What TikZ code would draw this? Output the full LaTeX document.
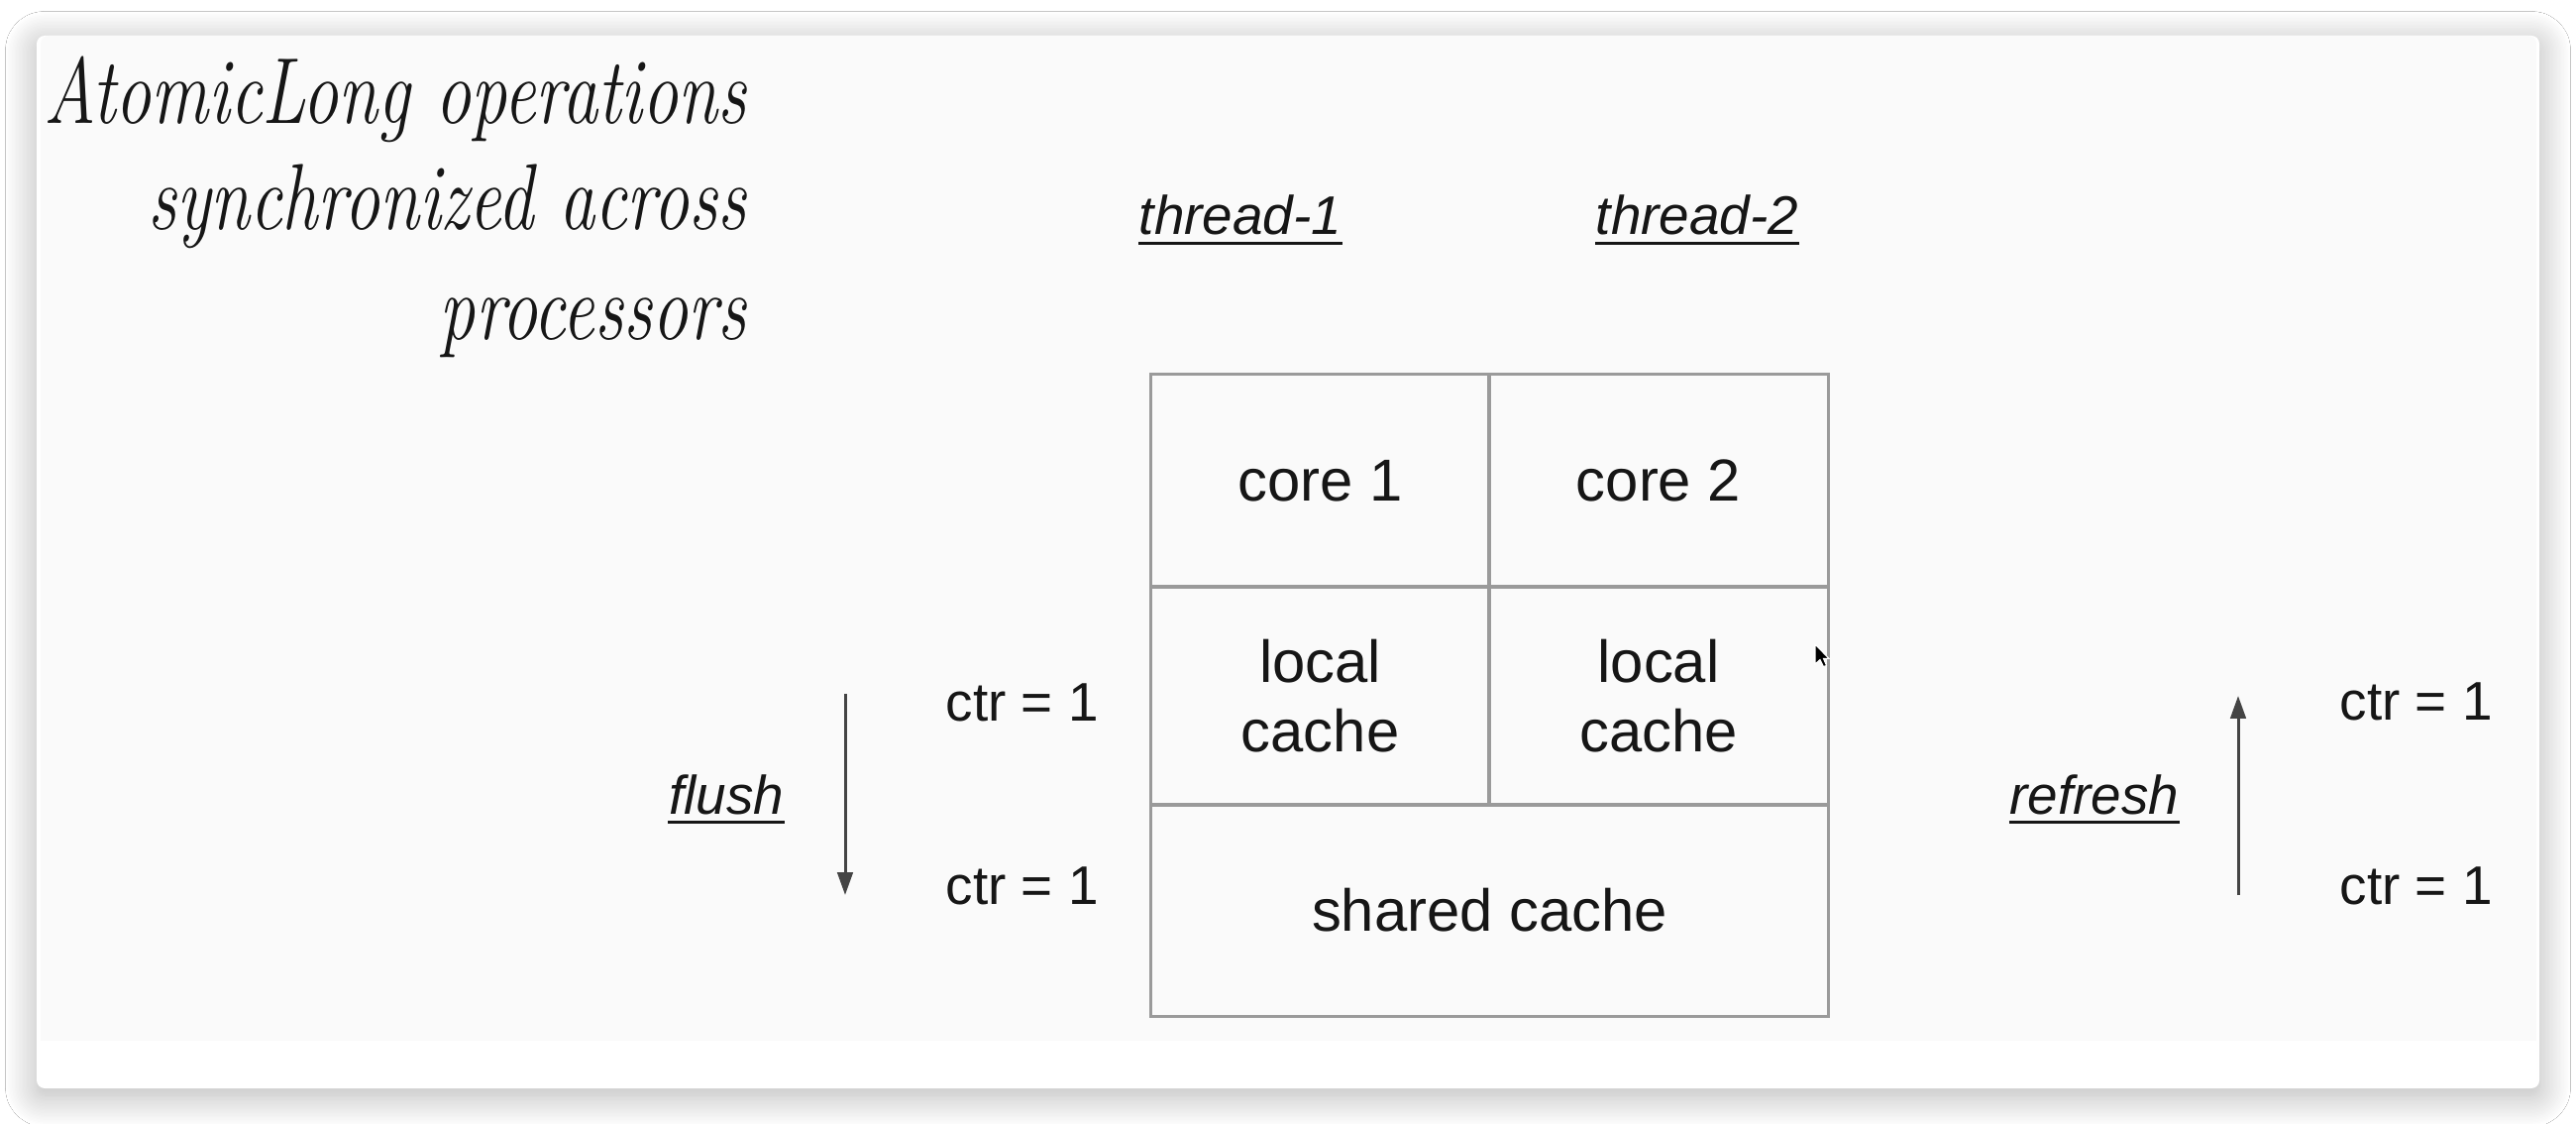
\documentclass[tikz,border=0pt]{standalone}
\usepackage{fontspec}
\usepackage{graphicx}
\newfontfamily\uifont{Liberation Sans}
\usetikzlibrary{arrows.meta,shadows.blur}

\definecolor{panel}{HTML}{FAFAFA}
\definecolor{gridline}{HTML}{9A9A9A}
\definecolor{ink}{HTML}{161616}
\definecolor{arrowink}{HTML}{444444}

\tikzset{
  lbl/.style={font=\uifont\fontsize{15.6}{19.9}\selectfont, text=ink, inner sep=0pt},
  italbl/.style={lbl, font=\uifont\itshape\fontsize{15.6}{19.9}\selectfont},
  cell/.style={lbl, font=\uifont\fontsize{17}{19.9}\selectfont, draw=gridline, line width=0.85pt, align=center},
  heading/.style={font=\itshape\fontsize{19.5}{24}\selectfont, text=ink, inner sep=0pt, anchor=base east},
  uline/.style={draw=ink, line width=0.85pt},
  flow/.style={draw=arrowink, line width=0.85pt, -{Triangle[length=6.5pt,width=4.4pt]}},
}

\begin{document}
\begin{tikzpicture}[x=0.01cm,y=-0.01cm]
  % page
  \useasboundingbox (0,0) rectangle (2600,1134);
  \fill[white] (0,0) rectangle (2600,1134);

  % card with soft shadow
  \fill[white, rounded corners=2.3pt,
        blur shadow={shadow xshift=0pt, shadow yshift=-2pt,
                     shadow blur radius=9pt, shadow blur steps=24,
                     shadow opacity=30}]
    (37,36) rectangle (2563,1098);
  \fill[panel, rounded corners=2.3pt] (41,36) rectangle (2560,80);
  \fill[panel] (41,60) rectangle (2560,1050);

  % heading
  \node[heading] (h1) at (754,125) {\scalebox{1.055}[1.38]{AtomicLong operations}};
  \node[heading] (h2) at (754,232) {\scalebox{1.055}[1.38]{synchronized across}};
  \node[heading] (h3) at (754,343) {\scalebox{1.055}[1.38]{processors}};

  % thread labels
  \node[italbl, anchor=base] (t1) at (1252,237) {thread-1};
  \node[italbl, anchor=base] (t2) at (1713,237) {thread-2};
  \draw[uline] ([yshift=-2.3pt]t1.base west) -- ([yshift=-2.3pt]t1.base east);
  \draw[uline] ([yshift=-2.3pt]t2.base west) -- ([yshift=-2.3pt]t2.base east);

  % processor grid
  \node[cell, minimum width=3.41cm, minimum height=2.14cm] (core1) at (1332.5,485) {core 1};
  \node[cell, minimum width=3.42cm, minimum height=2.14cm] (core2) at (1674,485) {core 2};
  \node[cell, minimum width=3.41cm, minimum height=2.20cm] (lc1) at (1332.5,702) {local\\cache};
  \node[cell, minimum width=3.42cm, minimum height=2.20cm] (lc2) at (1674,702) {local\\cache};
  \node[cell, minimum width=6.83cm, minimum height=2.13cm] (shared) at (1503.5,918.5) {shared cache};

  % flush side
  \node[lbl, anchor=base west] (ctrL1) at (954,728) {ctr = 1};
  \node[lbl, anchor=base west] (ctrL2) at (954,912) {ctr = 1};
  \node[italbl, anchor=base] (flush) at (733,821) {flush};
  \draw[uline] ([yshift=-2.5pt]flush.base west) -- ([yshift=-2.5pt]flush.base east);
  \coordinate (flTop) at (853,700);
  \coordinate (flBot) at (853,903);
  \draw[flow] (flTop) -- (flBot);

  % refresh side
  \node[lbl, anchor=base west] (ctrR1) at (2361,727) {ctr = 1};
  \node[lbl, anchor=base west] (ctrR2) at (2361,912) {ctr = 1};
  \node[italbl, anchor=base] (refresh) at (2114,821) {refresh};
  \draw[uline] ([yshift=-2.5pt]refresh.base west) -- ([yshift=-2.5pt]refresh.base east);
  \coordinate (rfBot) at (2259,903);
  \coordinate (rfTop) at (2259,702);
  \draw[flow] (rfBot) -- (rfTop);

  % mouse pointer
  \begin{scope}[shift={(1832,650)}]
    \filldraw[fill=black, draw=white, line width=0.3pt]
      (0,0) -- (0,20) -- (5,15.5) -- (8.5,22.5) -- (11.5,21.5) -- (8.5,14.5) -- (14,14.5) -- cycle;
  \end{scope}
\end{tikzpicture}
\end{document}
